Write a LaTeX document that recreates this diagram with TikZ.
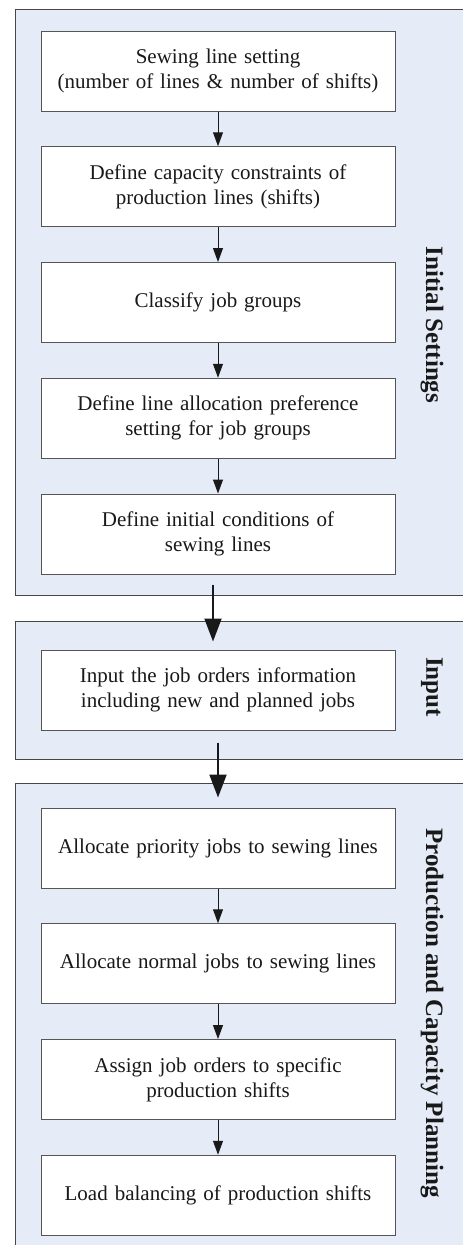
\documentclass[tikz,border=0pt]{standalone}
\usepackage{fontspec}
\setmainfont{Liberation Serif}
\newfontfamily\phasefont[Ligatures=NoCommon]{Liberation Serif}
\usetikzlibrary{positioning,arrows.meta,calc,backgrounds}
\definecolor{panelfill}{RGB}{229,236,247}
\definecolor{panelline}{RGB}{70,70,70}
\definecolor{boxline}{RGB}{85,85,85}
\definecolor{ink}{RGB}{25,25,25}
\tikzset{
  stepbox/.style={draw=boxline, line width=1pt, fill=white, align=center, text=ink,
              minimum width=354pt, minimum height=80pt, text width=340pt, inner sep=0pt,
              font=\fontsize{21}{25}\selectfont},
  panel/.style={draw=panelline, line width=1pt, fill=panelfill},
  arr/.style={-{Triangle[length=14pt,width=10pt]}, line width=1pt, draw=ink},
  bigarr/.style={-{Triangle[length=23pt,width=17pt]}, line width=2pt, draw=ink},
  phase/.style={rotate=-90, text=ink, font=\phasefont\fontsize{25}{30}\selectfont\bfseries},
}

\begin{document}
\begin{tikzpicture}[x=1pt, y=1pt, node distance=34.75pt]
  \useasboundingbox (0,0) rectangle (463,-1245);

  % initial settings
  \node[stepbox] (lines) at (218,-71)
    {Sewing line setting\\(number of lines \& number of shifts)};
  \node[stepbox, below=of lines] (capac)
    {Define capacity constraints of\\production lines (shifts)};
  \node[stepbox, below=of capac] (groups)
    {Classify job groups};
  \node[stepbox, below=of groups] (pref)
    {Define line allocation preference\\setting for job groups};
  \node[stepbox, below=of pref] (initc)
    {Define initial conditions of\\sewing lines};

  \draw[arr] (lines) -- (capac);
  \draw[arr] (capac) -- (groups);
  \draw[arr] (groups) -- (pref);
  \draw[arr] (pref) -- (initc);

  % input
  \node[stepbox, below=75pt of initc] (orders)
    {Input the job orders information\\including new and planned jobs};

  % production and capacity planning
  \node[stepbox, below=77pt of orders] (prio)
    {Allocate priority jobs to sewing lines};
  \node[stepbox, below=of prio] (normal)
    {Allocate normal jobs to sewing lines};
  \node[stepbox, below=of normal] (assign)
    {Assign job orders to specific\\production shifts};
  \node[stepbox, below=of assign] (balance)
    {Load balancing of production shifts};

  \draw[arr] (prio) -- (normal);
  \draw[arr] (normal) -- (assign);
  \draw[arr] (assign) -- (balance);

  \draw[bigarr] ([xshift=-5pt, yshift=-10pt]initc.south) -- ([xshift=-5pt, yshift=8pt]orders.north);
  \draw[bigarr] ([yshift=-12pt]orders.south) -- ([yshift=10pt]prio.north);

  % phase labels
  \node[phase] (lblinit) at (432,-325) {Initial Settings};
  \node[phase] (lblinput) at (432,-687) {Input};
  \node[phase] (lblplan) at (432,-1013) {Production and Capacity Planning};

  \begin{scope}[on background layer]
    \draw[panel] ($(lines.north west)+(-25,21)$) rectangle ($(initc.south east)+(75,-21)$);
    \draw[panel] ($(orders.north west)+(-25,28)$) rectangle ($(orders.south east)+(75,-29)$);
    \draw[panel] ($(prio.north west)+(-25,24)$) rectangle ($(balance.south east)+(75,-18)$);
  \end{scope}
\end{tikzpicture}
\end{document}
